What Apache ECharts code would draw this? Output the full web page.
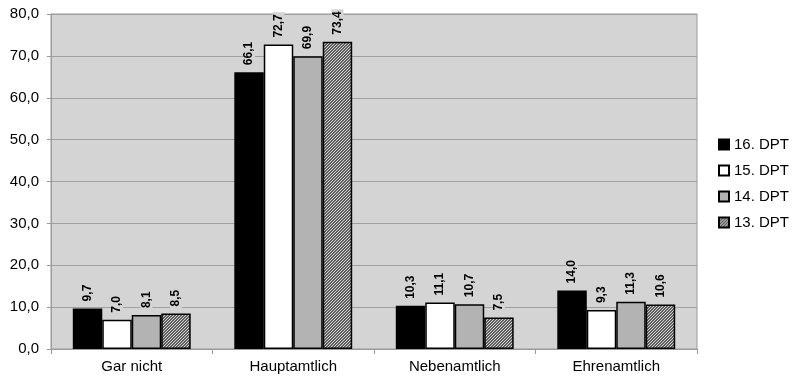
<!DOCTYPE html>
<html><head><meta charset="utf-8">
<script src="https://cdn.jsdelivr.net/npm/echarts@6/dist/echarts.min.js"></script>
<style>html,body{margin:0;padding:0;background:#fff}#c{width:802px;height:383px}</style>
</head><body><div id="c"></div>
<script>
var categories = ['Gar nicht', 'Hauptamtlich', 'Nebenamtlich', 'Ehrenamtlich'];
var seriesNames = ['16. DPT', '15. DPT', '14. DPT', '13. DPT'];
var dpt16 = [9.7, 66.1, 10.3, 14.0];
var dpt15 = [7.0, 72.7, 11.1, 9.3];
var dpt14 = [8.1, 69.9, 10.7, 11.3];
var dpt13 = [8.5, 73.4, 7.5, 10.6];
var yTicks = {min: 0, max: 80, interval: 10};

var pc = document.createElement('canvas');
pc.width = 3; pc.height = 3;
var g = pc.getContext('2d');
g.fillStyle = '#5e5e5e'; g.fillRect(0, 0, 3, 3);
g.fillStyle = '#d4d4d4';
for (var i = 0; i < 3; i++) { g.fillRect(i, 2 - i, 1, 1); }
var hatch = {image: pc, repeat: 'repeat'};

var fills = ['#000000', '#ffffff', '#b3b3b3', hatch];
var values = [dpt16, dpt15, dpt14, dpt13];
var fmt = function (v) { return v.toFixed(1).replace('.', ','); };
var FONT = 'Liberation Sans, Arial, sans-serif';

var series = seriesNames.map(function (n, k) {
  return {
    name: n, type: 'bar', data: values[k],
    barGap: '0%', barCategoryGap: '27%',
    itemStyle: {color: fills[k], borderColor: '#000', borderWidth: 1.5},
    label: {
      show: true, position: 'top', rotate: 90, distance: 5,
      align: 'left', verticalAlign: 'middle',
      fontSize: 12, fontWeight: 'bold', color: '#000', fontFamily: FONT,
      backgroundColor: '#d4d4d4', padding: [0, 2],
      formatter: function (p) { return fmt(p.value); }
    }
  };
});

var chart = echarts.init(document.getElementById('c'), null, {renderer: 'canvas'});
chart.setOption({
  animation: false,
  backgroundColor: '#ffffff',
  grid: {left: 51, right: 105, top: 14, bottom: 34, show: true,
         backgroundColor: '#d4d4d4', borderColor: '#9a9a9a', borderWidth: 1},
  legend: {
    orient: 'vertical', left: 713, top: 131, itemWidth: 10, itemHeight: 10,
    itemGap: 9, icon: 'rect',
    textStyle: {fontSize: 15, color: '#000', fontFamily: FONT, lineHeight: 17},
    data: seriesNames
  },
  xAxis: {
    type: 'category', data: categories,
    axisLine: {lineStyle: {color: '#9a9a9a', width: 1}},
    axisTick: {show: true, alignWithLabel: false, length: 5, lineStyle: {color: '#9a9a9a'}},
    axisLabel: {fontSize: 15, color: '#000', fontFamily: FONT, margin: 10}
  },
  yAxis: {
    type: 'value', min: yTicks.min, max: yTicks.max, interval: yTicks.interval,
    axisLine: {show: true, lineStyle: {color: '#9a9a9a'}},
    axisTick: {show: true, length: 4, lineStyle: {color: '#9a9a9a'}},
    splitLine: {show: true, lineStyle: {color: '#a0a0a0', width: 1}},
    axisLabel: {fontSize: 15, color: '#000', fontFamily: FONT, margin: 12,
                formatter: function (v) { return fmt(v); }}
  },
  series: series
});
</script></body></html>
